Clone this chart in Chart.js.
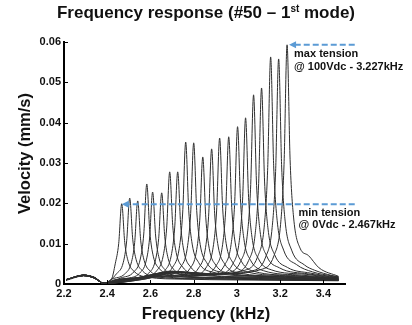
<!DOCTYPE html>
<html>
<head>
<meta charset="utf-8">
<script src="https://cdn.jsdelivr.net/npm/chart.js@4.4.1/dist/chart.umd.min.js"></script>
<style>
    html, body { margin: 0; padding: 0; background: #fff; }
    #wrap { position: relative; width: 412px; height: 325px; }
    #freqChart { position: absolute; left: 0; top: 0; }
    #title {
        position: absolute; left: 0; top: 3px; width: 412px;
        text-align: center; color: #111;
        font: bold 17px "Liberation Sans", Arial, sans-serif; line-height: 20px;
    }
    #title span { font-size: 10px; position: relative; top: -6px; }
</style>
</head>
<body>
<div id="wrap">
    <canvas id="freqChart" width="412" height="325"></canvas>
    <div id="title">Frequency response (#50 – 1<span>st</span> mode)</div>
</div>
<script>
// axis ticks
const xTicks = [2.2, 2.4, 2.6, 2.8, 3.0, 3.2, 3.4];
const xTickLabels = ['2.2', '2.4', '2.6', '2.8', '3', '3.2', '3.4'];
const yTicks = [0, 0.01, 0.02, 0.03, 0.04, 0.05, 0.06];
const yTickLabels = ['0', '0.01', '0.02', '0.03', '0.04', '0.05', '0.06'];

// one sweep per bias voltage (0 -> 100 Vdc), [kHz, mm/s]
const sweep000V = [[2.21,.0010],[2.29,.0022],[2.34,.0016],[2.385,.0001],[2.42,.0012],[2.437,.0050],[2.453,.0100],[2.467,.0199],[2.481,.0103],[2.497,.0056],[2.527,.0030],[2.587,.0017],[2.75,.0012],[3.0,.0010],[3.47,.0008]];
const sweep005V = [[2.21,.0011],[2.29,.0021],[2.34,.0015],[2.385,.0002],[2.444,.0026],[2.474,.0053],[2.490,.0107],[2.504,.0213],[2.518,.0111],[2.534,.0060],[2.564,.0032],[2.624,.0018],[2.8,.0013],[3.1,.0011],[3.47,.0009]];
const sweep010V = [[2.21,.0009],[2.29,.0020],[2.34,.0016],[2.385,.0001],[2.421,.0012],[2.481,.0025],[2.511,.0052],[2.527,.0103],[2.541,.0206],[2.555,.0107],[2.571,.0058],[2.601,.0031],[2.661,.0018],[2.85,.0014],[3.1,.0011],[3.47,.0009]];
const sweep015V = [[2.21,.0010],[2.29,.0022],[2.34,.0017],[2.385,.0002],[2.463,.0015],[2.523,.0030],[2.553,.0062],[2.569,.0124],[2.583,.0248],[2.597,.0129],[2.613,.0069],[2.643,.0037],[2.703,.0021],[2.9,.0015],[3.2,.0012],[3.47,.0009]];
const sweep020V = [[2.21,.0011],[2.29,.0021],[2.34,.0015],[2.385,.0001],[2.43,.0010],[2.490,.0014],[2.550,.0027],[2.580,.0057],[2.596,.0114],[2.610,.0228],[2.624,.0119],[2.640,.0064],[2.670,.0034],[2.730,.0019],[2.95,.0015],[3.25,.0012],[3.47,.0010]];
const sweep025V = [[2.21,.0010],[2.29,.0022],[2.34,.0016],[2.385,.0002],[2.45,.0011],[2.532,.0014],[2.592,.0027],[2.622,.0057],[2.638,.0113],[2.652,.0226],[2.666,.0118],[2.682,.0063],[2.712,.0034],[2.772,.0019],[3.0,.0016],[3.3,.0012],[3.47,.0010]];
const sweep030V = [[2.21,.0011],[2.29,.0021],[2.34,.0015],[2.385,.0001],[2.46,.0012],[2.569,.0017],[2.629,.0033],[2.659,.0070],[2.675,.0139],[2.689,.0278],[2.703,.0145],[2.719,.0078],[2.749,.0042],[2.809,.0024],[3.05,.0017],[3.3,.0013],[3.47,.0010]];
const sweep035V = [[2.21,.0010],[2.29,.0022],[2.34,.0016],[2.385,.0002],[2.47,.0011],[2.55,.0014],[2.606,.0017],[2.666,.0033],[2.696,.0070],[2.712,.0139],[2.726,.0278],[2.740,.0145],[2.756,.0078],[2.786,.0042],[2.846,.0024],[3.1,.0017],[3.35,.0013],[3.47,.0011]];
const sweep040V = [[2.21,.0011],[2.29,.0021],[2.34,.0015],[2.385,.0001],[2.47,.0012],[2.57,.0015],[2.643,.0021],[2.703,.0042],[2.733,.0088],[2.749,.0176],[2.763,.0352],[2.777,.0183],[2.793,.0099],[2.823,.0053],[2.883,.0030],[3.1,.0019],[3.35,.0014],[3.47,.0011]];
const sweep045V = [[2.21,.0010],[2.29,.0022],[2.34,.0016],[2.385,.0002],[2.48,.0011],[2.60,.0016],[2.680,.0021],[2.740,.0042],[2.770,.0088],[2.786,.0175],[2.800,.0350],[2.814,.0182],[2.830,.0098],[2.860,.0053],[2.920,.0030],[3.15,.0019],[3.38,.0014],[3.47,.0012]];
const sweep050V = [[2.21,.0011],[2.29,.0021],[2.34,.0015],[2.385,.0001],[2.48,.0012],[2.62,.0018],[2.722,.0019],[2.782,.0038],[2.812,.0079],[2.828,.0158],[2.842,.0315],[2.856,.0164],[2.872,.0088],[2.902,.0047],[2.962,.0027],[3.2,.0018],[3.38,.0014],[3.47,.0012]];
const sweep055V = [[2.21,.0010],[2.29,.0022],[2.34,.0016],[2.385,.0002],[2.49,.0011],[2.64,.0022],[2.763,.0020],[2.823,.0040],[2.853,.0084],[2.869,.0168],[2.883,.0335],[2.897,.0174],[2.913,.0094],[2.943,.0050],[3.003,.0028],[3.22,.0019],[3.40,.0015],[3.47,.0012]];
const sweep060V = [[2.21,.0011],[2.29,.0021],[2.34,.0015],[2.385,.0001],[2.50,.0012],[2.68,.0026],[2.800,.0022],[2.860,.0043],[2.890,.0091],[2.906,.0181],[2.920,.0362],[2.934,.0188],[2.950,.0101],[2.980,.0054],[3.040,.0031],[3.25,.0020],[3.40,.0016],[3.47,.0013]];
const sweep065V = [[2.21,.0010],[2.29,.0022],[2.34,.0016],[2.385,.0002],[2.50,.0011],[2.69,.0029],[2.78,.0020],[2.842,.0022],[2.902,.0044],[2.932,.0091],[2.948,.0183],[2.962,.0365],[2.976,.0190],[2.992,.0102],[3.022,.0055],[3.082,.0031],[3.27,.0021],[3.40,.0016],[3.47,.0013]];
const sweep070V = [[2.21,.0011],[2.29,.0021],[2.34,.0015],[2.385,.0001],[2.51,.0012],[2.70,.0030],[2.80,.0021],[2.883,.0023],[2.943,.0047],[2.973,.0098],[2.989,.0195],[3.003,.0390],[3.017,.0203],[3.033,.0109],[3.063,.0059],[3.123,.0033],[3.30,.0022],[3.42,.0016],[3.47,.0014]];
const sweep075V = [[2.21,.0010],[2.29,.0022],[2.34,.0016],[2.385,.0002],[2.52,.0011],[2.71,.0031],[2.82,.0022],[2.920,.0025],[2.980,.0049],[3.010,.0103],[3.026,.0206],[3.040,.0412],[3.054,.0214],[3.070,.0115],[3.100,.0062],[3.160,.0035],[3.32,.0024],[3.42,.0017],[3.47,.0015]];
const sweep080V = [[2.21,.0011],[2.29,.0021],[2.34,.0015],[2.385,.0001],[2.53,.0012],[2.70,.0032],[2.84,.0023],[2.957,.0028],[3.017,.0056],[3.047,.0117],[3.063,.0235],[3.077,.0469],[3.091,.0244],[3.107,.0131],[3.137,.0070],[3.197,.0040],[3.33,.0025],[3.43,.0018],[3.47,.0015]];
const sweep085V = [[2.21,.0010],[2.29,.0022],[2.34,.0016],[2.385,.0002],[2.54,.0011],[2.71,.0030],[2.86,.0024],[2.994,.0029],[3.054,.0058],[3.084,.0122],[3.100,.0243],[3.114,.0486],[3.128,.0253],[3.144,.0136],[3.174,.0073],[3.234,.0041],[3.34,.0027],[3.43,.0019],[3.47,.0016]];
const sweep090V = [[2.21,.0011],[2.29,.0021],[2.34,.0015],[2.385,.0001],[2.55,.0012],[2.72,.0031],[2.88,.0024],[3.036,.0034],[3.096,.0068],[3.126,.0141],[3.142,.0282],[3.156,.0563],[3.170,.0293],[3.186,.0158],[3.216,.0084],[3.276,.0048],[3.35,.0030],[3.44,.0020],[3.47,.0017]];
const sweep095V = [[2.21,.0010],[2.29,.0022],[2.34,.0016],[2.385,.0002],[2.56,.0011],[2.73,.0030],[2.90,.0025],[3.073,.0033],[3.133,.0067],[3.163,.0140],[3.179,.0279],[3.193,.0558],[3.207,.0290],[3.223,.0156],[3.253,.0084],[3.313,.0047],[3.36,.0034],[3.44,.0021],[3.47,.0018]];
const sweep100V = [[2.21,.0011],[2.29,.0021],[2.34,.0015],[2.385,.0001],[2.57,.0012],[2.74,.0029],[2.92,.0025],[3.112,.0036],[3.172,.0071],[3.202,.0148],[3.218,.0297],[3.232,.0593],[3.246,.0308],[3.262,.0166],[3.292,.0089],[3.33,.0071],[3.38,.0040],[3.47,.0019]];

const sweeps = [sweep000V, sweep005V, sweep010V, sweep015V, sweep020V, sweep025V, sweep030V,
    sweep035V, sweep040V, sweep045V, sweep050V, sweep055V, sweep060V, sweep065V, sweep070V,
    sweep075V, sweep080V, sweep085V, sweep090V, sweep095V, sweep100V];

// callouts (peak each arrow points at)
const minTension = { freq: 2.467, vel: 0.0198, lines: ['min tension', '@ 0Vdc - 2.467kHz'] };
const maxTension = { freq: 3.232, vel: 0.0593, lines: ['max tension', '@ 100Vdc - 3.227kHz'] };
const arrowTail = 3.545;

const FONT = '"Liberation Sans", Arial, sans-serif';
const arrowColor = '#5b9bd5';

document.addEventListener('DOMContentLoaded', () => {
    renderFrequencyChart();
});

function drawArrow(ctx, fromX, tipX, py) {
    ctx.strokeStyle = arrowColor;
    ctx.fillStyle = arrowColor;
    ctx.lineWidth = 2;
    ctx.setLineDash([6, 3]);
    ctx.beginPath();
    ctx.moveTo(fromX, py);
    ctx.lineTo(tipX + 6, py);
    ctx.stroke();
    ctx.setLineDash([]);
    ctx.beginPath();
    ctx.moveTo(tipX, py);
    ctx.lineTo(tipX + 7, py - 3.5);
    ctx.lineTo(tipX + 7, py + 3.5);
    ctx.closePath();
    ctx.fill();
}

const decorPlugin = {
    id: 'decor',
    afterDatasetsDraw(chart) {
        const { ctx, chartArea } = chart;
        const x = chart.scales.x, y = chart.scales.y;
        ctx.save();

        // small inward ticks
        ctx.strokeStyle = '#000';
        ctx.lineWidth = 1;
        xTicks.forEach(v => {
            const px = Math.round(x.getPixelForValue(v)) + 0.5;
            ctx.beginPath(); ctx.moveTo(px, chartArea.bottom); ctx.lineTo(px, chartArea.bottom - 4); ctx.stroke();
        });
        yTicks.forEach(v => {
            const py = Math.round(y.getPixelForValue(v)) + 0.5;
            ctx.beginPath(); ctx.moveTo(chartArea.left, py); ctx.lineTo(chartArea.left + 4, py); ctx.stroke();
        });

        // dashed arrows to min / max peaks
        const tail = x.getPixelForValue(arrowTail);
        const maxY = y.getPixelForValue(maxTension.vel);
        const minY = y.getPixelForValue(minTension.vel);
        const maxX = x.getPixelForValue(maxTension.freq);
        drawArrow(ctx, tail, maxX + 2, maxY);
        drawArrow(ctx, tail, x.getPixelForValue(minTension.freq), minY);

        ctx.fillStyle = '#111';
        ctx.font = 'bold 11px ' + FONT;
        ctx.textAlign = 'left';
        ctx.textBaseline = 'alphabetic';
        ctx.fillText(maxTension.lines[0], maxX + 7, maxY + 12);
        ctx.fillText(maxTension.lines[1], maxX + 7, maxY + 25);
        const minX = x.getPixelForValue(3.285);
        ctx.fillText(minTension.lines[0], minX, minY + 11.5);
        ctx.fillText(minTension.lines[1], minX, minY + 24);

        // axis titles
        ctx.font = 'bold 16.5px ' + FONT;
        ctx.textAlign = 'center';
        ctx.fillText('Frequency (kHz)', 206, 318.5);
        ctx.translate(30, 153.5);
        ctx.rotate(-Math.PI / 2);
        ctx.fillText('Velocity (mm/s)', 0, 0);

        ctx.restore();
    }
};

function renderFrequencyChart() {
    const canvas = document.getElementById('freqChart');
    const tickFont = { family: FONT, size: 11, weight: 'bold' };

    new Chart(canvas, {
        type: 'line',
        data: {
            datasets: sweeps.map(s => ({
                data: s,
                borderColor: '#2e2e2e',
                borderWidth: 1,
                pointRadius: 0,
                fill: false,
                cubicInterpolationMode: 'monotone'
            }))
        },
        options: {
            responsive: false,
            animation: false,
            devicePixelRatio: 1,
            layout: { padding: { top: 42, right: 67, left: 0, bottom: 0 } },
            plugins: { legend: { display: false }, tooltip: { enabled: false } },
            scales: {
                x: {
                    type: 'linear', min: 2.2, max: 3.5,
                    afterFit: s => { s.height = 41; },
                    afterBuildTicks: s => { s.ticks = xTicks.map(v => ({ value: v })); },
                    grid: { display: false, drawTicks: false },
                    border: { display: true, color: '#000', width: 2 },
                    ticks: { padding: 3, color: '#111', font: tickFont, maxRotation: 0,
                        callback: (v, i) => xTickLabels[i] }
                },
                y: {
                    min: 0, max: 0.06,
                    afterFit: s => { s.width = 64; },
                    afterBuildTicks: s => { s.ticks = yTicks.map(v => ({ value: v })); },
                    grid: { display: false, drawTicks: false },
                    border: { display: true, color: '#000', width: 2 },
                    ticks: { padding: 3, color: '#111', font: tickFont,
                        callback: (v, i) => yTickLabels[i] }
                }
            }
        },
        plugins: [decorPlugin]
    });
}
</script>
</body>
</html>
